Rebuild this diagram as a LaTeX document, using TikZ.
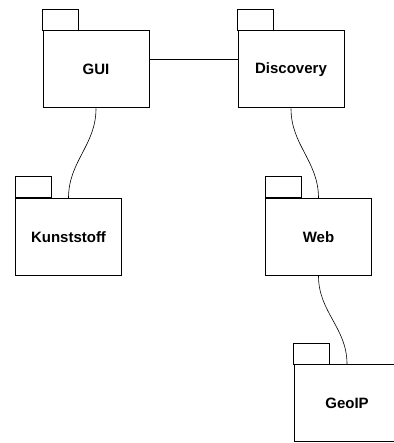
\documentclass[tikz,border=0pt]{standalone}
\usepackage{fontspec}
\setmainfont{Liberation Sans}
\usepackage{tikz}

\tikzset{
    pkg/.style={draw, line width=1pt, minimum width=106pt, minimum height=77pt,
        font=\bfseries\fontsize{15}{18}\selectfont, inner sep=0pt},
    dep/.style={line width=0.6pt}
}

\begin{document}
\begin{tikzpicture}[x=1pt, y=-1pt]
\useasboundingbox[fill=white] (0,0) rectangle (393,443);

\node[pkg] (gui)   at (96,69.5)   {GUI};
\node[pkg] (disc)  at (291,69.5)  {Discovery};
\node[pkg] (kunst) at (68.5,237)  {Kunststoff};
\node[pkg] (web)   at (318.5,237) {Web};
\node[pkg] (geoip) at (347,403)   {GeoIP};

% tabs
\foreach \p in {gui, disc, kunst, web, geoip}
    \draw[line width=1pt] (\p.north west) rectangle ++(36,-21);

\draw[dep] ([yshift=10pt]gui.east) -- ([yshift=10pt]disc.west);
\draw[dep] (gui.south) to[out=-90, in=90] (kunst.north);
\draw[dep] (disc.south) to[out=-90, in=90] (web.north);
\draw[dep] (web.south) to[out=-90, in=90] (geoip.north);
\end{tikzpicture}
\end{document}
